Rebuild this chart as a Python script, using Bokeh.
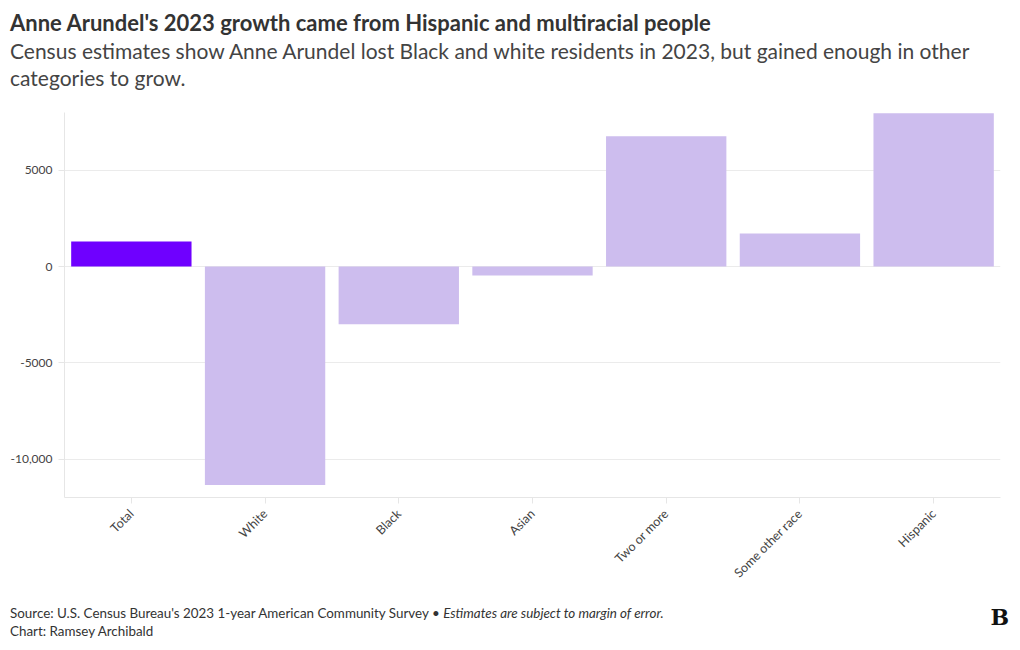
from bokeh.plotting import figure
from bokeh.models import ColumnDataSource, FixedTicker, Div, Range1d
from bokeh.layouts import column
from bokeh.embed import file_html
from bokeh.resources import INLINE
import math

categories = ["Total", "White", "Black", "Asian", "Two or more", "Some other race", "Hispanic"]
values = [1300, -11350, -3000, -470, 6770, 1720, 7960]
colors = ["#6f00ff", "#cdbdee", "#cdbdee", "#cdbdee", "#cdbdee", "#cdbdee", "#cdbdee"]
y_ticks = [-10000, -5000, 0, 5000]
y_tick_labels = {-10000: "-10,000", -5000: "-5000", 0: "0", 5000: "5000"}

FONT = "Lato"

src = ColumnDataSource(dict(cat=categories, val=values, color=colors))

p = figure(x_range=categories, y_range=Range1d(-12000, 8000), width=1004, height=495,
           output_backend="svg", toolbar_location=None,
           min_border_left=64, min_border_right=4, min_border_top=10, min_border_bottom=100)
p.vbar(x="cat", top="val", bottom=0, width=0.9, color="color", source=src, line_color=None)

p.outline_line_color = None
p.xgrid.grid_line_color = None
p.ygrid.grid_line_color = "#ebebeb"
p.yaxis.ticker = FixedTicker(ticks=y_ticks)
p.yaxis.major_label_overrides = y_tick_labels
p.yaxis.minor_tick_line_color = None
for ax in (p.xaxis[0], p.yaxis[0]):
    ax.axis_line_color = "#e6e6e6"
    ax.major_tick_line_color = "#e6e6e6"
    ax.major_tick_out = 6
    ax.major_tick_in = 0
    ax.major_label_text_font = FONT
    ax.major_label_text_font_size = "12px"
    ax.major_label_text_color = "#444444"
p.xaxis.major_label_text_font_size = "12.5px"
p.xaxis.major_label_orientation = math.pi / 4
p.xaxis.major_label_standoff = 8
p.yaxis.major_label_standoff = 6

header = Div(text=(
    f"<div style='font-family:{FONT};color:#333;width:1000px;padding-left:5px'>"
    "<div style='font-weight:bold;font-size:22px;line-height:28px;margin-top:4px'>Anne Arundel's 2023 growth came from Hispanic and multiracial people</div>"
    "<div style='font-size:21px;line-height:27px;color:#444'>Census estimates show Anne Arundel lost Black and white residents in 2023, but gained enough in other categories to grow.</div>"
    "</div>"), width=1004, height=92)

footer = Div(text=(
    f"<div style='font-family:{FONT};color:#333;font-size:13.4px;line-height:18px;width:1004px;position:relative;padding-left:5px;margin-top:2px'>"
    "<div>Source: U.S. Census Bureau's 2023 1-year American Community Survey &bull; <i>Estimates are subject to margin of error.</i></div>"
    "<div>Chart: Ramsey Archibald</div>"
    "<div style='position:absolute;right:0px;top:4px;font-family:DejaVu Serif;font-weight:bold;font-size:22px;color:#111'>B</div>"
    "</div>"), width=1004, height=42)

layout = column(header, p, footer, spacing=0)
open("out.html", "w").write(file_html(layout, INLINE))
